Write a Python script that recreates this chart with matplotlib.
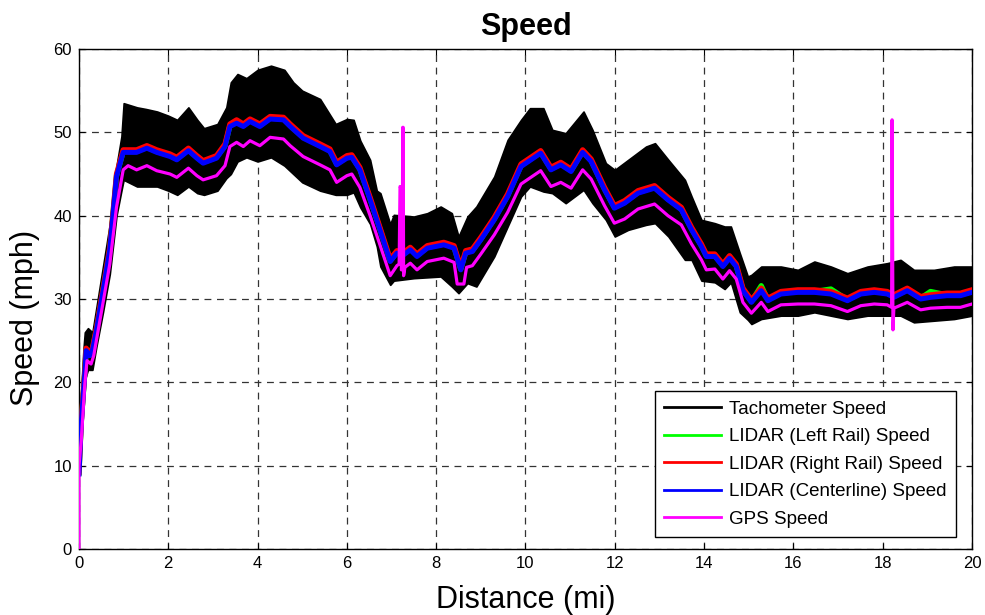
import matplotlib
matplotlib.use("Agg")
import matplotlib.pyplot as plt
from matplotlib.lines import Line2D

plt.rcParams['font.family'] = ['Liberation Sans', 'DejaVu Sans']

# tachometer: noisy band, kept as upper / lower envelope
tach_x = [0.01, 0.1, 0.13, 0.2, 0.3, 0.39, 0.54, 0.69, 0.84, 0.95,
          1.0, 1.3, 1.5, 1.75, 2.0, 2.2, 2.45, 2.65, 2.8, 3.1,
          3.3, 3.4, 3.55, 3.75, 4.0, 4.3, 4.6, 4.8, 5.0, 5.4,
          5.75, 6.0, 6.15, 6.3, 6.52, 6.67, 6.75, 6.97, 7.05, 7.5,
          7.8, 8.1, 8.35, 8.5, 8.7, 8.9, 9.3, 9.6, 9.9, 10.1,
          10.4, 10.6, 10.9, 11.3, 11.5, 11.8, 12.0, 12.3, 12.7, 12.9,
          13.2, 13.57, 13.72, 13.94, 14.24, 14.46, 14.6, 14.8, 14.98, 15.06,
          15.28, 15.72, 16.1, 16.47, 16.84, 17.21, 17.66, 18.1, 18.4, 18.7,
          19.15, 19.6, 20.0]
tach_upper = [15, 24, 26, 26.5, 26, 29, 34, 39, 46, 49.5,
              53.5, 53, 52.8, 52.5, 52, 51.5, 53, 51.5, 50.5, 51,
              53, 56, 57, 56.5, 57.5, 58, 57.5, 56, 55, 54,
              51, 51.6, 51.5, 49, 46.7, 43, 42.7, 39, 40.1, 39.9,
              40.3, 41.1, 40.3, 37.5, 39.9, 41.1, 44.7, 49.1, 51.5, 52.9,
              52.9, 50.3, 49.9, 52.5, 50.3, 46.3, 45.5, 46.7, 48.3, 48.7,
              46.7, 44.3, 42.3, 39.5, 39.1, 38.7, 38.7, 35.5, 32.7, 32.9,
              33.9, 33.9, 33.5, 34.5, 33.9, 33.1, 33.9, 34.3, 34.7, 33.5,
              33.5, 33.9, 33.9]
tach_lower = [9, 18, 20.3, 21.5, 21.5, 24.3, 28.5, 33, 40, 43,
              44.3, 43.5, 43.5, 43.5, 43.0, 42.5, 43.5, 42.7, 42.5, 43,
              44.5, 45, 46.5, 47, 46.5, 47, 46, 45, 44, 43,
              42.5, 42.5, 42.8, 41, 39, 36.3, 33.9, 31.7, 32.2, 32.5,
              32.6, 32.7, 31.5, 30.7, 31.9, 31.5, 35.1, 38.7, 42.3, 43.5,
              42.9, 42.7, 41.5, 43.1, 41.5, 39.5, 37.5, 38.3, 38.9, 39.1,
              37.5, 34.7, 34.7, 32.2, 32, 31.2, 32, 28.4, 27.5, 27.0,
              27.6, 28.0, 28.0, 28.4, 28.0, 27.6, 28.0, 28.0, 28.0, 27.2,
              27.4, 27.6, 28.0]

lidar_x = [0.0, 0.05, 0.13, 0.16, 0.24, 0.3, 0.39, 0.54, 0.69, 0.84,
           0.99, 1.29, 1.52, 1.74, 2.04, 2.19, 2.45, 2.64, 2.78, 3.08,
           3.27, 3.38, 3.53, 3.68, 3.83, 4.05, 4.28, 4.58, 4.73, 5.02,
           5.40, 5.62, 5.77, 6.0, 6.11, 6.29, 6.52, 6.74, 6.97, 7.12,
           7.27, 7.42, 7.57, 7.80, 8.17, 8.40, 8.55, 8.66, 8.81, 9.0,
           9.3, 9.6, 9.9, 10.12, 10.34, 10.57, 10.79, 11.02, 11.28, 11.47,
           11.77, 11.99, 12.22, 12.52, 12.89, 13.19, 13.49, 13.72, 13.94, 14.05,
           14.24, 14.42, 14.57, 14.72, 14.87, 15.06, 15.28, 15.43, 15.72, 16.1,
           16.47, 16.84, 17.21, 17.51, 17.81, 18.1, 18.25, 18.55, 18.85, 19.07,
           19.44, 19.74, 20.0]
lidar_left = [9.1, 15.1, 21.1, 23.9, 23.3, 23.9, 26.3, 31.1, 36.0, 44.8,
              47.7, 47.7, 48.2, 47.7, 47.2, 46.8, 47.9, 47.0, 46.4, 47.0,
              48.4, 50.8, 51.3, 50.8, 51.4, 50.8, 51.7, 51.6, 50.8, 49.4,
              48.4, 47.8, 46.2, 47.0, 47.1, 45.6, 42.0, 38.4, 34.6, 35.6,
              35.4, 36.0, 35.2, 36.2, 36.6, 36.2, 33.6, 35.6, 35.8, 37.2,
              39.6, 42.4, 46.0, 46.8, 47.6, 45.6, 46.2, 45.4, 47.7, 46.6,
              43.2, 41.0, 41.6, 42.8, 43.4, 42.0, 40.8, 38.4, 36.4, 35.2,
              35.2, 34.0, 35.0, 34.0, 31.1, 29.7, 31.6, 29.9, 30.7, 30.9,
              30.9, 31.2, 29.9, 30.7, 30.9, 30.7, 30.3, 31.1, 30.1, 30.9,
              30.5, 30.5, 30.9]
lidar_right = [9.2, 15.3, 21.3, 24.1, 23.5, 24.1, 26.5, 31.3, 36.2, 45.0,
               47.9, 47.9, 48.4, 47.9, 47.4, 47.0, 48.1, 47.2, 46.6, 47.2,
               48.6, 51.0, 51.5, 51.0, 51.6, 51.0, 51.9, 51.8, 51.0, 49.6,
               48.6, 48.0, 46.4, 47.2, 47.3, 45.8, 42.2, 38.6, 34.8, 35.8,
               35.6, 36.2, 35.4, 36.4, 36.8, 36.4, 33.8, 35.8, 36.0, 37.4,
               39.8, 42.6, 46.2, 47.0, 47.8, 45.8, 46.4, 45.6, 47.9, 46.8,
               43.4, 41.2, 41.8, 43.0, 43.6, 42.2, 41.0, 38.6, 36.6, 35.4,
               35.4, 34.2, 35.2, 34.2, 31.3, 29.9, 31.3, 30.1, 30.9, 31.1,
               31.1, 30.9, 30.1, 30.9, 31.1, 30.9, 30.5, 31.3, 30.3, 30.5,
               30.7, 30.7, 31.1]
lidar_center = [9, 15, 21, 23.8, 23.2, 23.8, 26.2, 31, 35.9, 44.7,
                47.6, 47.6, 48.1, 47.6, 47.1, 46.7, 47.8, 46.9, 46.3, 46.9,
                48.3, 50.7, 51.1, 50.7, 51.3, 50.7, 51.6, 51.5, 50.7, 49.3,
                48.3, 47.7, 46.1, 46.9, 47.0, 45.5, 41.9, 38.3, 34.5, 35.5,
                35.3, 35.9, 35.1, 36.1, 36.5, 36.1, 33.5, 35.5, 35.7, 37.1,
                39.5, 42.3, 45.9, 46.7, 47.5, 45.5, 46.1, 45.3, 47.6, 46.5,
                43.1, 40.9, 41.5, 42.7, 43.3, 41.9, 40.7, 38.3, 36.3, 35.1,
                35.1, 33.9, 34.9, 33.9, 31.0, 29.6, 31.0, 29.8, 30.6, 30.8,
                30.8, 30.6, 29.8, 30.6, 30.8, 30.6, 30.2, 31.0, 30.0, 30.2,
                30.4, 30.4, 30.8]

gps_x = [0.0, 0.0, 0.05, 0.13, 0.18, 0.27, 0.33, 0.54, 0.69, 0.84,
         0.99, 1.1, 1.29, 1.52, 1.74, 2.04, 2.19, 2.45, 2.64, 2.78,
         3.08, 3.27, 3.38, 3.53, 3.68, 3.83, 4.05, 4.28, 4.58, 4.73,
         5.02, 5.40, 5.62, 5.77, 6.0, 6.11, 6.29, 6.52, 6.74, 6.97,
         7.12, 7.17, 7.19, 7.21, 7.22, 7.24, 7.25, 7.26, 7.27, 7.30,
         7.42, 7.57, 7.80, 8.17, 8.40, 8.47, 8.62, 8.68, 8.81, 9.0,
         9.3, 9.6, 9.9, 10.12, 10.34, 10.57, 10.79, 11.02, 11.28, 11.47,
         11.77, 11.99, 12.22, 12.52, 12.89, 13.19, 13.49, 13.72, 13.94, 14.05,
         14.24, 14.42, 14.57, 14.72, 14.87, 15.06, 15.28, 15.43, 15.72, 16.1,
         16.47, 16.84, 17.21, 17.51, 17.81, 18.1, 18.2, 18.21, 18.23, 18.25,
         18.55, 18.85, 19.07, 19.44, 19.74, 20.0]
gps_speed = [0, 10, 13, 19.8, 22.6, 22.2, 23.2, 29.6, 34.2, 41,
             45.5, 46.0, 45.5, 46.0, 45.4, 45.0, 44.6, 45.7, 44.8, 44.3,
             44.8, 46.0, 48.3, 48.8, 48.3, 49.0, 48.4, 49.4, 49.2, 48.4,
             47.1, 46.1, 45.5, 44.0, 44.8, 45.0, 43.4, 40.0, 36.5, 32.8,
             34.0, 34.2, 43.5, 43.3, 33.5, 33.5, 50.6, 50.6, 32.8, 33.8,
             34.3, 33.5, 34.5, 34.9, 34.4, 31.8, 31.8, 33.8, 34.0, 35.4,
             37.7, 40.4, 43.8, 44.6, 45.4, 43.5, 44.0, 43.3, 45.5, 44.4,
             41.2, 39.1, 39.6, 40.8, 41.4, 40.0, 38.9, 36.6, 34.7, 33.5,
             33.6, 32.4, 33.4, 32.4, 29.6, 28.3, 29.6, 28.5, 29.3, 29.4,
             29.4, 29.2, 28.5, 29.2, 29.4, 29.3, 29.0, 51.5, 26.3, 28.9,
             29.6, 28.7, 28.9, 29.0, 29.0, 29.4]

labels = ['Tachometer Speed', 'LIDAR (Left Rail) Speed', 'LIDAR (Right Rail) Speed',
          'LIDAR (Centerline) Speed', 'GPS Speed']
colors = ['#000000', '#00ff00', '#ff0000', '#0000ff', '#ff00ff']

fig = plt.figure(figsize=(9.85, 6.15), dpi=100)
ax = fig.add_axes([0.0802, 0.1073, 0.9066, 0.813])

ax.fill_between(tach_x, tach_lower, tach_upper, color=colors[0], lw=1.2, zorder=2)
ax.plot(lidar_x, lidar_left, color=colors[1], lw=3.8, zorder=3)
ax.plot(lidar_x, lidar_right, color=colors[2], lw=3.8, zorder=4)
ax.plot(lidar_x, lidar_center, color=colors[3], lw=3.6, zorder=5)
ax.plot(gps_x, gps_speed, color=colors[4], lw=2.3, zorder=6)

ax.set_xlim(0, 20)
ax.set_ylim(0, 60)
ax.set_xticks(range(0, 21, 2))
ax.set_yticks(range(0, 61, 10))
ax.tick_params(direction='in', length=4, width=0.8, top=True, right=True,
               labelsize=12, pad=5)
ax.grid(True, color='#333333', linestyle=(0, (5.5, 4.5)), linewidth=0.9, zorder=1)
ax.set_axisbelow(True)
for s in ax.spines.values():
    s.set_linewidth(1.0)

ax.set_title('Speed', fontsize=22, fontweight='bold', pad=10)
ax.set_xlabel('Distance (mi)', fontsize=22, labelpad=10)
ax.set_ylabel('Speed (mph)', fontsize=22)
ax.yaxis.set_label_coords(-0.044, 0.462)

handles = [Line2D([0], [0], color=c, lw=2) for c in colors]
leg = ax.legend(handles, labels, loc='lower right', bbox_to_anchor=(0.982, 0.024),
                borderaxespad=0, fontsize=13.5, fancybox=False, framealpha=1,
                edgecolor='black', handlelength=3.0, handletextpad=0.45,
                labelspacing=0.55, borderpad=0.5)
leg.get_frame().set_linewidth(1.0)
leg.set_zorder(10)

fig.savefig('out.png', dpi=100)
